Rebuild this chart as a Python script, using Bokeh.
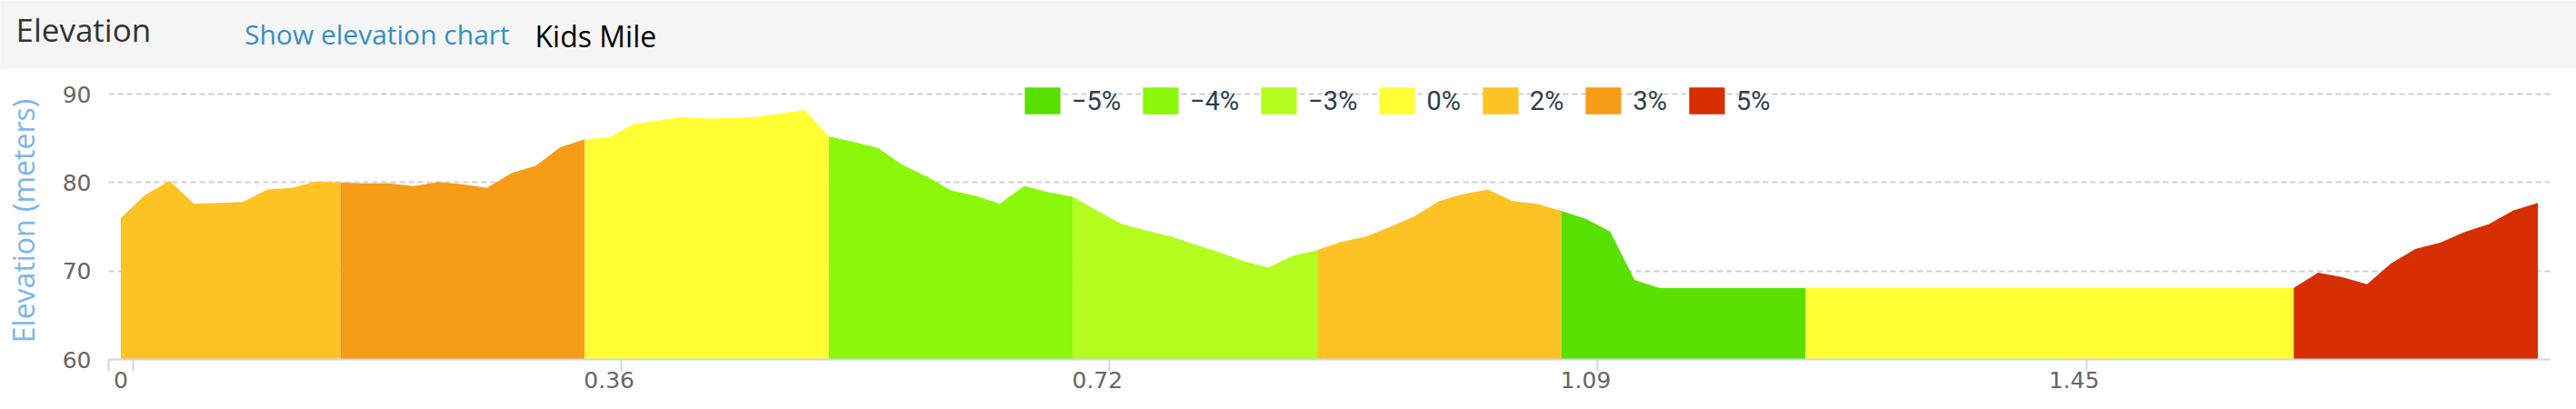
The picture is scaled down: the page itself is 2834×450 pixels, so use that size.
from bokeh.plotting import figure
from bokeh.models import Range1d, FixedTicker, Legend, LegendItem
from bokeh.layouts import column
from bokeh.core.properties import value
from bokeh.embed import file_html
from bokeh.resources import INLINE

# ---------------- data ----------------
header_title = "Elevation"
header_link = "Show elevation chart"
header_route = "Kids Mile"
y_title = "Elevation (meters)"

distance_labels = ["0", "0.36", "0.72", "1.09", "1.45"]
label_index = [0, 20, 40, 60, 80]

elevation = [
    76.0, 78.6, 80.2, 77.6, 77.7, 77.8, 79.2, 79.4, 80.1, 80.0,
    79.9, 79.9, 79.6, 80.05, 79.8, 79.4, 81.05, 81.9, 84.0, 84.9,
    85.1, 86.6, 87.0, 87.4, 87.2, 87.3, 87.4, 87.8, 88.2, 85.2,
    84.6, 83.9, 82.0, 80.7, 79.1, 78.5, 77.6, 79.6, 78.9, 78.4,
    76.8, 75.3, 74.6, 73.9, 73.0, 72.1, 71.1, 70.4, 71.7, 72.35,
    73.3, 73.9, 75.0, 76.2, 77.9, 78.7, 79.2, 77.9, 77.6, 76.8,
    75.9, 74.45, 69.0, 68.1, 68.1, 68.1, 68.1, 68.1, 68.1, 68.1,
    68.1, 68.1, 68.1, 68.1, 68.1, 68.1, 68.1, 68.1, 68.1, 68.1,
    68.1, 68.1, 68.1, 68.1, 68.1, 68.1, 68.1, 68.1, 68.1, 68.1,
    69.8, 69.3, 68.5, 70.9, 72.5, 73.2, 74.4, 75.3, 76.85, 77.7,
]

zone_breaks = [0, 9, 19, 29, 39, 49, 59, 69, 79, 89, 99]
zone_grades = ["2%", "3%", "0%", "\u22124%", "\u22123%", "2%", "\u22125%", "0%", "0%", "5%"]

grade_labels = ["\u22125%", "\u22124%", "\u22123%", "0%", "2%", "3%", "5%"]
grade_colors = ["#58e000", "#8af808", "#b4fd1e", "#ffff33", "#fdc324", "#f79c17", "#d72e00"]

y_ticks = [60, 70, 80, 90]

# ---------------- sizes ----------------
W = 2834
HEADER_H = 76
CHART_H = 450 - HEADER_H
ML, MR, MT, MB = 119, 29, 14, 55       # chart borders; frame top sits 13px above the 90 line
FH = CHART_H - MT - MB                  # frame height
PX_PER_M = 292 / (y_ticks[-1] - y_ticks[0])

# ---------------- header ----------------
hdr = figure(width=W, height=HEADER_H, x_range=Range1d(0, W), y_range=Range1d(HEADER_H, 0),
             output_backend="svg", toolbar_location=None, min_border=0,
             x_axis_location=None, y_axis_location=None,
             background_fill_color="#f5f5f5", border_fill_color="#f5f5f5",
             outline_line_color=None, frame_align=False)
hdr.grid.visible = False
hdr.text(x=[17], y=[31.5], text=[header_title], text_font=value("Open Sans"),
         text_font_size="35px", text_color="#333333", text_baseline="alphabetic")
hdr.text(x=[268.5], y=[37], text=[header_link], text_font=value("Open Sans"),
         text_font_size="30px", text_color="#3a8dc5", text_baseline="alphabetic")
hdr.text(x=[588], y=[39.3], text=[header_route], text_font=value("Open Sans"),
         text_font_size="32px", text_color="#000000", text_baseline="alphabetic")

# ---------------- chart ----------------
n = len(elevation)
xs = list(range(n))
y_min = y_ticks[0]
y_top = y_min + FH / PX_PER_M

p = figure(width=W, height=CHART_H, x_range=Range1d(-0.5, n - 0.5), y_range=Range1d(y_min, y_top),
           output_backend="svg", toolbar_location=None,
           min_border_left=ML, min_border_right=MR, min_border_top=MT, min_border_bottom=MB,
           outline_line_color=None, background_fill_color="white", border_fill_color="white",
           frame_align=False)

for k, g in enumerate(zone_grades):
    a, b = zone_breaks[k], zone_breaks[k + 1]
    c = grade_colors[grade_labels.index(g)]
    p.varea(x=xs[a:b + 1], y1=[y_min] * (b - a + 1), y2=elevation[a:b + 1], fill_color=c)

items = []
for g, c in zip(grade_labels, grade_colors):
    ks = [k for k, z in enumerate(zone_grades) if z == g]
    r = p.quad(left=[zone_breaks[k] for k in ks], right=[zone_breaks[k + 1] for k in ks],
               bottom=[y_min] * len(ks),
               top=[max(elevation[zone_breaks[k]:zone_breaks[k + 1] + 1]) for k in ks],
               fill_color=c, line_color=None, visible=False)
    items.append(LegendItem(label=g, renderers=[r]))

legend = Legend(items=items, orientation="horizontal", location=(1003, 266),
                glyph_width=49, glyph_height=37, label_standoff=8, spacing=19,
                padding=0, margin=0, background_fill_alpha=0, border_line_alpha=0,
                label_text_font="Roboto", label_text_font_size="29px",
                label_text_color="#2b3e50")
p.add_layout(legend)

# x axis
xa = p.xaxis[0]
xa.ticker = FixedTicker(ticks=label_index, minor_ticks=[-0.5] + [t + 0.5 for t in label_index])
xa.major_label_overrides = {i: l for i, l in zip(label_index, distance_labels)}
xa.major_tick_line_color = None
xa.major_tick_out = 0
xa.major_tick_in = 0
xa.minor_tick_out = 13
xa.minor_tick_in = 0
xa.minor_tick_line_color = "#ccd6eb"
xa.minor_tick_line_width = 2
xa.axis_line_color = "#ccd6eb"
xa.axis_line_width = 2
xa.major_label_standoff = 0
xa.major_label_text_font = "DejaVu Sans"
xa.major_label_text_font_size = "25px"
xa.major_label_text_color = "#666666"

# y axis
ya = p.yaxis[0]
ya.ticker = FixedTicker(ticks=y_ticks, minor_ticks=[])
ya.axis_line_color = None
ya.major_tick_line_color = None
ya.minor_tick_line_color = None
ya.major_tick_out = 0
ya.major_tick_in = 0
ya.minor_tick_out = 0
ya.minor_tick_in = 0
ya.major_label_standoff = 19
ya.major_label_text_font = "DejaVu Sans"
ya.major_label_text_font_size = "25px"
ya.major_label_text_color = "#666666"
ya.axis_label = y_title
ya.axis_label_text_font = "Open Sans"
ya.axis_label_text_font_size = "32px"
ya.axis_label_text_font_style = "normal"
ya.axis_label_text_color = "#7cb5ec"
ya.axis_label_standoff = 19

p.xgrid.visible = False
p.ygrid.ticker = FixedTicker(ticks=y_ticks, minor_ticks=[])
p.ygrid.grid_line_color = "#d0d0d0"
p.ygrid.grid_line_dash = "6 4"
p.ygrid.grid_line_width = 2

layout = column(hdr, p, spacing=0)
open("out.html", "w").write(file_html(layout, INLINE))
